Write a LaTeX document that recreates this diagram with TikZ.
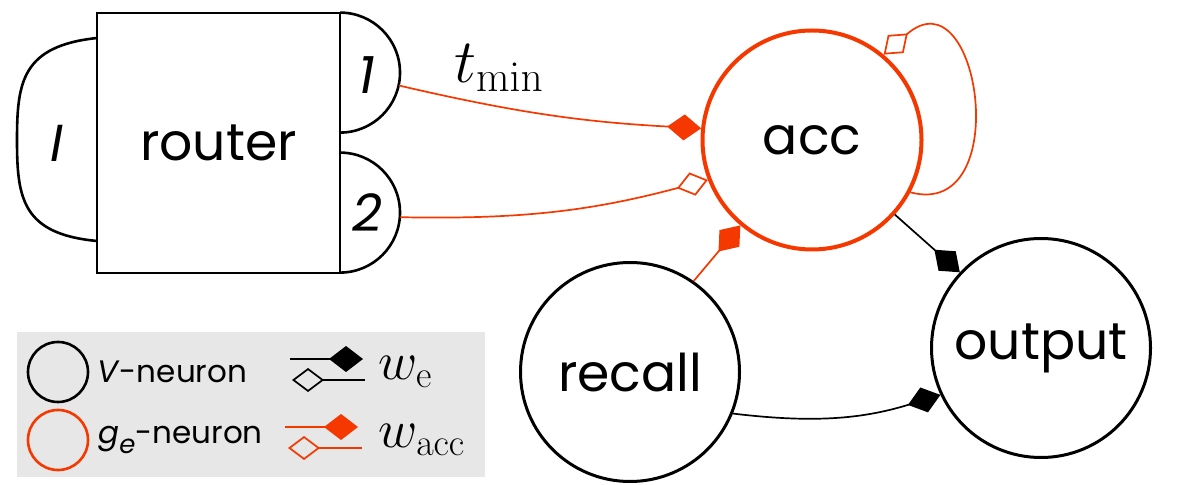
\RequirePackage{fix-cm}
\documentclass[tikz,border=0pt]{standalone}
\usepackage[no-math]{fontspec}
\setmainfont{Poppins}
\usepackage{amsmath}
\usetikzlibrary{arrows.meta, positioning, calc}
\definecolor{accorange}{RGB}{245,56,0}
\definecolor{legendgray}{RGB}{230,231,230}
\tikzset{
    neuron/.style={circle, draw=black, line width=1.5pt, minimum size=109.5pt, inner sep=0pt, font=\fontsize{26}{30}\selectfont},
    accneuron/.style={neuron, draw=accorange, line width=2pt},
    routerbox/.style={rectangle, draw=black, line width=1.3pt, minimum width=121.5pt, minimum height=130pt, font=\fontsize{26}{30}\selectfont},
    portline/.style={draw=black, line width=1.3pt},
    portlabel/.style={font=\fontsize{26}{30}\selectfont\itshape, inner sep=0pt},
    legendtext/.style={font=\fontsize{15.5}{18}\selectfont, anchor=west, inner sep=0pt},
    mathlabel/.style={anchor=west, inner sep=0pt, font=\fontsize{27}{30}\selectfont},
}

\begin{document}
\begin{tikzpicture}[
  x=0.5pt, y=0.5pt,
  % synapse styles
  excarr/.style={black, line width=0.85pt, -{Diamond[length=17pt,width=13pt]}},
  inharr/.style={black, line width=0.85pt, -{Diamond[open,length=16pt,width=12pt]}},
  accarr/.style={accorange, line width=0.85pt, -{Diamond[length=17pt,width=13pt]}},
  accinh/.style={accorange, line width=0.85pt, -{Diamond[open,length=16pt,width=12pt]}},
  legcircle/.style={circle, draw=black, line width=1.3pt, minimum size=30pt, inner sep=0pt}
]
\useasboundingbox (0,0) rectangle (1182,-485);

% Router with its input and output ports
\node[routerbox] (router) at (218.5,-143) {router};
\node[circle, minimum size=60pt, inner sep=0pt] (port1) at (340,-73) {};
\node[circle, minimum size=60pt, inner sep=0pt] (port2) at (340,-213) {};
\draw[portline] (port1.north) arc[start angle=90, end angle=-90, radius=30pt];
\draw[portline] (port2.north) arc[start angle=90, end angle=-90, radius=30pt];
\draw[portline] (97,-38) .. controls (22,-46) and (17,-82) .. (17,-140) .. controls (17,-198) and (22,-234) .. (97,-241);
\node[portlabel] (inlabel) at (57,-143) {I};
\node[portlabel] (onelabel) at (367,-75) {1};
\node[portlabel] (twolabel) at (367,-213) {2};

% Neurons
\node[accneuron] (acc) at (812,-140) {acc};
\node[neuron] (recall) at (630,-372) {recall};
\node[neuron] (output) at (1041,-348) {output};

% Connections into acc
\draw[accarr] (port1.-12) to[bend right=5] (acc.174);
\node[font=\fontsize{31}{34}\selectfont] (tmin) at (499,-68) {$t_{\min}$};
\draw[accinh] (port2.-4) to[bend right=8] (acc.201);
\draw[accarr] (recall.55) -- (acc.230);
\draw[accinh] (acc.-28) .. controls (1015,-220) and (980,30) .. (acc.50);

% Connections into output
\draw[excarr] (acc.-42) -- (output.137);
\draw[excarr] (recall.-22) to[bend right=12] (output.205);

% Legend
\fill[legendgray] (17,-332) rectangle (485,-477);
\node[legcircle] (vcircle) at (58,-372) {};
\node[legcircle, draw=accorange] (gcircle) at (58,-440) {};
\node[legendtext] (vtext) at (97,-372) {\textit{V}-neuron};
\node[legendtext] (gtext) at (98,-440) {\textit{g\raisebox{-0.3em}{\fontsize{13}{13}\selectfont e}}-neuron};
\coordinate (we1) at (290,-359);
\coordinate (we2) at (363,-359);
\coordinate (we3) at (365,-380);
\coordinate (we4) at (292,-380);
\coordinate (wa1) at (285,-427);
\coordinate (wa2) at (358,-427);
\coordinate (wa3) at (362,-448);
\coordinate (wa4) at (288,-448);
\draw[excarr] (we1) -- (we2);
\draw[inharr] (we3) -- (we4);
\draw[accarr] (wa1) -- (wa2);
\draw[accinh] (wa3) -- (wa4);
\node[mathlabel] (welabel) at (378,-372) {$w_{\mathrm{e}}$};
\node[mathlabel] (walabel) at (378,-440) {$w_{\mathrm{acc}}$};
\end{tikzpicture}
\end{document}
